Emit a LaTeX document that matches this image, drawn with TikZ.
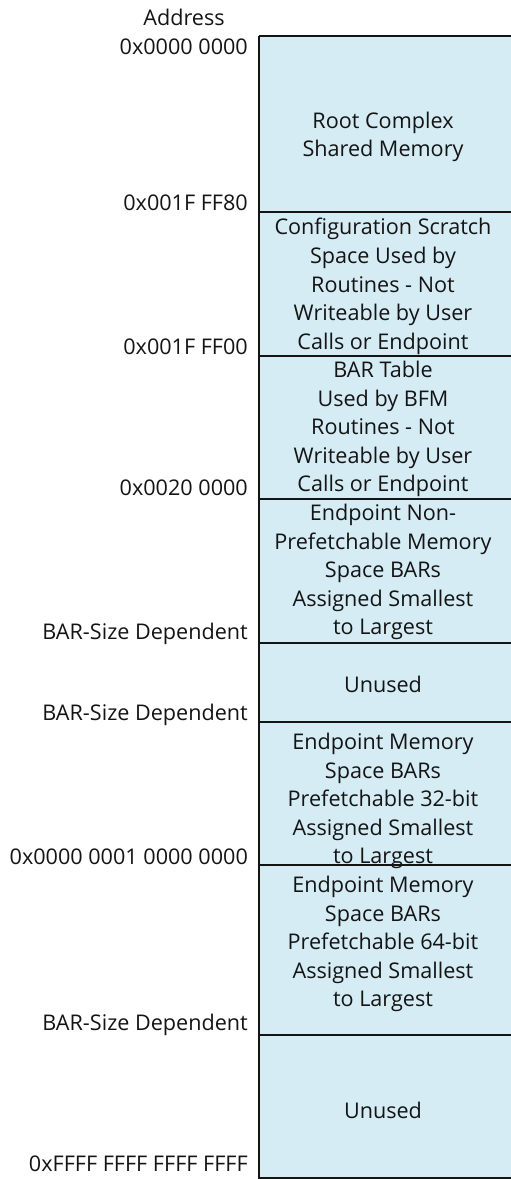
\documentclass[tikz,border=0pt]{standalone}
\usepackage{fontspec}
\setmainfont{Open Sans}
\definecolor{memfill}{RGB}{213,236,244}
\definecolor{ink}{RGB}{20,20,20}
\begin{document}
\begin{tikzpicture}[x=1pt,y=-1pt,
  addr/.style={anchor=base east,inner sep=0pt,font=\fontsize{21.6}{28.6}\selectfont,text=ink},
  region/.style={align=center,inner sep=0pt,font=\fontsize{21.6}{28.6}\selectfont,text=ink},
  sep/.style={line width=1.3pt,draw=ink}]
\useasboundingbox (0,0) rectangle (511,1179);
\fill[memfill] (259,36) rectangle (511,1178);
\draw[sep] (259,36) -- (511,36);
\draw[line width=1.1pt,draw=ink] (259,36) -- (259,1178.5);
\draw[sep] (259,1178) -- (511,1178);
\foreach \yy in {212,356,499,643,722,865,1035}
  \draw[sep] (259,\yy) -- (511,\yy);
% header
\node[anchor=base,inner sep=0pt,font=\fontsize{21.6}{28.6}\selectfont,text=ink] (hdr) at (184,25) {Address};
% address labels
\node[addr] (a0) at (248,54) {0x0000 0000};
\node[addr] (a1) at (248,210) {0x001F FF80};
\node[addr] (a2) at (248,354) {0x001F FF00};
\node[addr] (a3) at (248,495) {0x0020 0000};
\node[addr] (a4) at (248,639) {BAR-Size Dependent};
\node[addr] (a5) at (248,720) {BAR-Size Dependent};
\node[addr] (a6) at (248,864) {0x0000 0001 0000 0000};
\node[addr] (a7) at (248,1030) {BAR-Size Dependent};
\node[addr] (a8) at (248,1171) {0xFFFF FFFF FFFF FFFF};
% region texts
\node[region] (r0) at (383,137) {Root Complex\\Shared Memory};
\node[region] (r1) at (383,286.5) {Configuration Scratch\\Space Used by\\Routines - Not\\Writeable by User\\Calls or Endpoint};
\node[region] (r2) at (383,429) {BAR Table\\Used by BFM\\Routines - Not\\Writeable by User\\Calls or Endpoint};
\node[region] (r3) at (383,572) {Endpoint Non-\\Prefetchable Memory\\Space BARs\\Assigned Smallest\\to Largest};
\node[region] (r4) at (383,684) {Unused};
\node[region] (r5) at (383,801) {Endpoint Memory\\Space BARs\\Prefetchable 32-bit\\Assigned Smallest\\to Largest};
\node[region] (r6) at (383,944) {Endpoint Memory\\Space BARs\\Prefetchable 64-bit\\Assigned Smallest\\to Largest};
\node[region] (r7) at (383,1110) {Unused};
\end{tikzpicture}
\end{document}
